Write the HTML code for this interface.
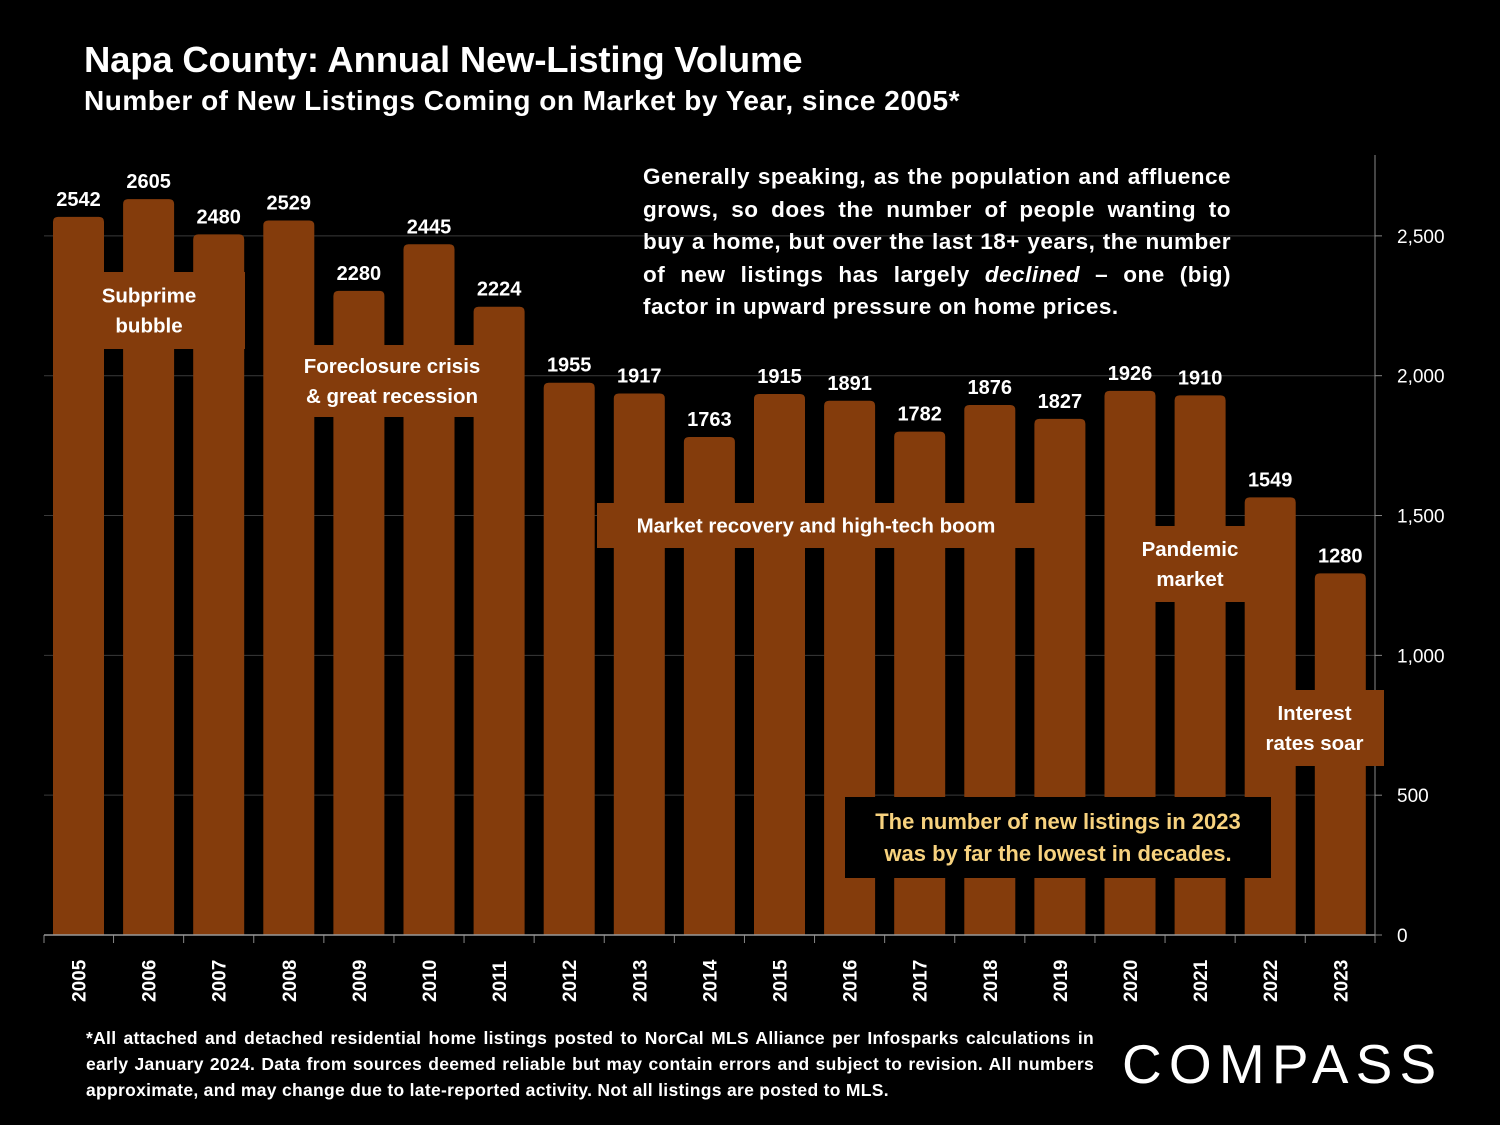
<!DOCTYPE html>
<html><head><meta charset="utf-8"><style>
html,body{margin:0;padding:0;background:#000;}
body{width:1500px;height:1125px;overflow:hidden;position:relative;font-family:"Liberation Sans",sans-serif;color:#fff;}
.t{position:absolute;font-weight:bold;white-space:nowrap;}
</style></head><body>
<div class="t" style="left:84px;top:39px;font-size:36.5px;letter-spacing:-0.2px">Napa County: Annual New-Listing Volume</div>
<div class="t" style="left:84px;top:85px;font-size:28px;letter-spacing:0.5px">Number of New Listings Coming on Market by Year, since 2005*</div>
<svg id="chart" width="1500" height="1125" style="position:absolute;left:0;top:0" xmlns="http://www.w3.org/2000/svg"></svg>
<div style="position:absolute;left:643px;top:161px;width:588px;font-size:22.5px;font-weight:bold;line-height:32.5px;text-align:justify;text-align-last:left;letter-spacing:0.5px">Generally speaking, as the population and affluence grows, so does the number of people wanting to buy a home, but over the last 18+ years, the number of new listings has largely <i>declined</i> – one (big) factor in upward pressure on home prices.</div>
<div style="position:absolute;left:86px;top:1025px;width:1008px;font-size:17.5px;font-weight:bold;line-height:26px;text-align:justify;text-align-last:left;letter-spacing:0.3px">*All attached and detached residential home listings posted to NorCal MLS Alliance per Infosparks calculations in early January 2024. Data from sources deemed reliable but may contain errors and subject to revision. All numbers approximate, and may change due to late-reported activity. Not all listings are posted to MLS.</div>
<div style="position:absolute;left:1122px;top:1032px;font-size:55px;letter-spacing:7.2px;color:#fff;font-weight:normal">COMPASS</div>
<script>
const years=["2005","2006","2007","2008","2009","2010","2011","2012","2013","2014","2015","2016","2017","2018","2019","2020","2021","2022","2023"];
const listings=[2542,2605,2480,2529,2280,2445,2224,1955,1917,1763,1915,1891,1782,1876,1827,1926,1910,1549,1280];
const yTicks=[0,500,1000,1500,2000,2500];
const yTickLabels=["0","500","1,000","1,500","2,000","2,500"];
const NS="http://www.w3.org/2000/svg";
const svg=document.getElementById('chart');
const y0=935,pxPer=0.27965,barPx=0.2825,x0=53,pitch=70.1,bw=51;
function yScale(v){return y0-v*pxPer;}
function barY(v){return y0-v*barPx;}
function xScale(i){return x0+i*pitch;}
function mk(tag,attrs,txt){const e=document.createElementNS(NS,tag);for(const k in attrs)e.setAttribute(k,attrs[k]);if(txt!==undefined)e.textContent=txt;svg.appendChild(e);return e;}
const BAR='#843c0c';
yTicks.forEach((v,i)=>{
  if(v>0){const g=mk('line',{x1:44,x2:1375,y1:yScale(v),y2:yScale(v),stroke:'#3a3a3a','stroke-width':1});
  
  }
  const tk=mk('line',{x1:1375,x2:1382,y1:yScale(v),y2:yScale(v),stroke:'#888','stroke-width':1});
  
  
  const t=mk('text',{x:1397,y:yScale(v)+7,fill:'#fff','font-size':19,'font-family':'Liberation Sans, sans-serif'},yTickLabels[i]);
  
  
});
listings.forEach((v,i)=>{
  const x=xScale(i),top=barY(v);
  const p=mk('path',{d:`M${x},${y0}V${top+5}Q${x},${top} ${x+5},${top}H${x+bw-5}Q${x+bw},${top} ${x+bw},${top+5}V${y0}Z`,fill:BAR});
  
  
  const l=mk('text',{x:x+bw/2,y:top-11,fill:'#fff','font-size':20,'font-weight':'bold','text-anchor':'middle','font-family':'Liberation Sans, sans-serif'},String(v));
  
  
  const yl=mk('text',{transform:`translate(${x+bw/2+7},1002) rotate(-90)`,fill:'#fff','font-size':19,'font-weight':'bold','font-family':'Liberation Sans, sans-serif'},years[i]);
  
  
});
for(let i=0;i<=years.length;i++){
  const xx=i===years.length?1375:(i===0?44:xScale(i)-(pitch-bw)/2);
  const t=mk('line',{x1:xx,x2:xx,y1:y0,y2:y0+8,stroke:'#888'});
  
  
}
const base=mk('line',{x1:44,x2:1375,y1:y0,y2:y0,stroke:'#999','stroke-width':1.5});


const yax=mk('line',{x1:1375,x2:1375,y1:155,y2:y0+8,stroke:'#888','stroke-width':1});


function box(name,x,y,w,h,fill,lines,color,fs,lh){
  const r=mk('rect',{x:x,y:y,width:w,height:h,fill:fill});
  
  
  const cy=y+h/2-(lines.length-1)*lh/2;
  lines.forEach((s,k)=>{
    const t=mk('text',{x:x+w/2,y:cy+k*lh+fs*0.35,fill:color,'font-size':fs,'font-weight':'bold','text-anchor':'middle','font-family':'Liberation Sans, sans-serif'},s);
    
    
  });
}
box('subprime-annotation',53,272,192,77,BAR,['Subprime','bubble'],'#fff',20.5,30);
box('foreclosure-annotation',293,345,198,72,BAR,['Foreclosure crisis','& great recession'],'#fff',20.5,30);
box('recovery-annotation',597,503,438,45,BAR,['Market recovery and high-tech boom'],'#fff',20.5,30);
box('pandemic-annotation',1133,526,114,76,BAR,['Pandemic','market'],'#fff',20.5,30);
box('rates-annotation',1245,690,139,76,BAR,['Interest','rates soar'],'#fff',20.5,30);
box('lowest-callout',845,797,426,81,'#000',['The number of new listings in 2023','was by far the lowest in decades.'],'#f7d27e',22,32);
</script>
</body></html>
